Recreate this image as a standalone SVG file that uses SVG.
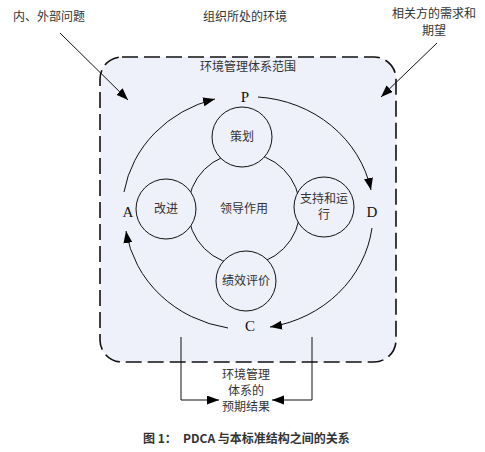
<svg xmlns="http://www.w3.org/2000/svg" width="485" height="452" viewBox="0 0 485 452">
<defs>
<marker id="ah" markerWidth="13" markerHeight="10" refX="12" refY="4.5" orient="auto" markerUnits="userSpaceOnUse">
<path d="M0,0 L12,4.5 L0,9 z" fill="#000"/>
</marker>
</defs>
<style>
.cjk{font-family:"Noto Sans CJK SC","Noto Sans",sans-serif;font-size:12px;fill:#333;text-anchor:middle}
.ltr{font-family:"Liberation Serif",serif;font-size:15px;fill:#111;text-anchor:middle}
.ln{fill:none;stroke:#111;stroke-width:1}
.arr{fill:none;stroke:#111;stroke-width:1;marker-end:url(#ah)}
.cir{fill:#eef0fa;stroke:#111;stroke-width:1}
</style>
<rect width="485" height="452" fill="#fff"/>
<g id="scope">
<rect x="100" y="57" width="296" height="305" rx="22" ry="22" fill="#eef0fa" stroke="#111" stroke-width="1.6" stroke-dasharray="16,6"/>
<text class="cjk" x="248" y="71">环境管理体系范围</text>
</g>
<g id="labels">
<text class="cjk" x="245" y="21">组织所处的环境</text>
<text class="cjk" x="49" y="21">内、外部问题</text>
<text class="cjk" x="434" y="18">相关方的需求和</text>
<text class="cjk" x="434" y="35">期望</text>
</g>
<g id="connectors">
<path class="arr" d="M60,33 L128,100"/>
<path class="arr" d="M437,43 L381,97"/>
<path class="arr" d="M124,192 A124,116 0 0,1 215,99"/>
<path class="arr" d="M258,97 A124,116 0 0,1 371,190"/>
<path class="arr" d="M372,228 A124,116 0 0,1 270,327"/>
<path class="arr" d="M228,328 A124,116 0 0,1 126,231"/>
<path class="arr" d="M181,337 L181,400 L219,400"/>
<path class="arr" d="M312,337 L312,400 L272,400"/>
</g>
<g id="center"><circle class="cir" cx="244" cy="209" r="56"/><text class="cjk" x="244" y="213">领导作用</text></g>
<g id="plan"><circle class="cir" cx="242" cy="137" r="30"/><text class="cjk" x="242" y="141">策划</text></g>
<g id="improve"><circle class="cir" cx="166" cy="209" r="30"/><text class="cjk" x="166" y="213">改进</text></g>
<g id="support"><circle class="cir" cx="324" cy="207" r="30"/><text class="cjk" x="324" y="203">支持和运</text><text class="cjk" x="324" y="219">行</text></g>
<g id="eval"><circle class="cir" cx="246" cy="281" r="30"/><text class="cjk" x="246" y="285">绩效评价</text></g>
<g id="pdca">
<text class="ltr" x="245" y="102">P</text>
<text class="ltr" x="128" y="217">A</text>
<text class="ltr" x="372" y="217">D</text>
<text class="ltr" x="250" y="331">C</text>
</g>
<g id="result">
<text class="cjk" x="246" y="379">环境管理</text>
<text class="cjk" x="246" y="395">体系的</text>
<text class="cjk" x="246" y="411">预期结果</text>
</g>
<text y="443" font-family="'Noto Sans CJK SC',sans-serif" font-size="12" font-weight="bold" fill="#333"><tspan x="143">图 1：</tspan><tspan x="183">PDCA 与本标准结构之间的关系</tspan></text>
</svg>
